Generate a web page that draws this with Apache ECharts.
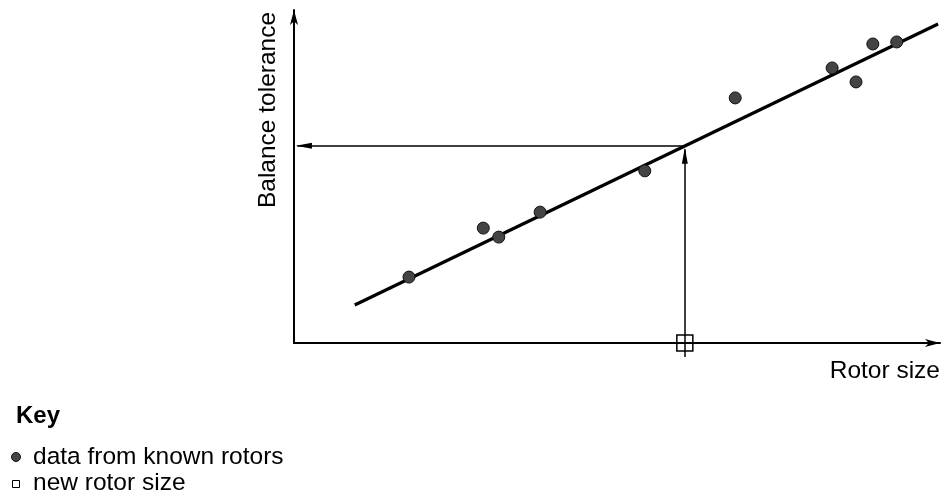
<!DOCTYPE html>
<html>
<head>
<meta charset="utf-8">
<script src="https://cdn.jsdelivr.net/npm/echarts@6/dist/echarts.min.js"></script>
<style>
  html, body { margin: 0; padding: 0; background: #fff; }
  #chart { width: 945px; height: 499px; }
</style>
</head>
<body>
<div id="chart"></div>
<script>
  // values, axes have no ticks so units are 0..100
  var knownRotors = [
    [17.8, 19.8], [29.3, 34.5], [31.7, 31.8], [38.1, 39.3], [54.3, 51.7],
    [68.3, 73.6], [83.3, 82.6], [87.0, 78.4], [89.6, 89.8], [93.3, 90.4]
  ];
  var fitLine = [[9.4, 11.4], [99.7, 95.8]];
  var newRotorSize = 60.5;
  var readTolerance = 59.2;
  var axisNames = ['Rotor size', 'Balance tolerance'];
  var keyTitle = 'Key';
  var keyLabels = ['data from known rotors', 'new rotor size'];

  var font = 'Liberation Sans, Arial, sans-serif';
  var arrowPath = 'path://M0,0 L3,16 L-3,16 Z';
  var chart = echarts.init(document.getElementById('chart'));

  var option = {
    animation: false,
    backgroundColor: '#fff',
    grid: { left: 294, right: 5, top: 10, bottom: 156 },
    xAxis: {
      type: 'value', min: 0, max: 100,
      axisLine: { lineStyle: { color: '#000', width: 2 }, symbol: ['none', 'arrow'], symbolSize: [6, 15] },
      axisTick: { show: false }, axisLabel: { show: false }, splitLine: { show: false }
    },
    yAxis: {
      type: 'value', min: 0, max: 100,
      axisLine: { show: true, lineStyle: { color: '#000', width: 2 }, symbol: ['none', 'arrow'], symbolSize: [6, 15] },
      axisTick: { show: false }, axisLabel: { show: false }, splitLine: { show: false }
    },
    title: {
      text: keyTitle, left: 11, top: 399,
      textStyle: { fontFamily: font, fontSize: 24, fontWeight: 'bold', color: '#000' }
    },
    graphic: [
      {
        type: 'text', x: 268, y: 110, rotation: Math.PI / 2,
        style: { text: axisNames[1], fontFamily: font, fontSize: 24.5, fill: '#000', align: 'center', verticalAlign: 'middle' }
      },
      {
        type: 'text', x: 940, y: 371,
        style: { text: axisNames[0], fontFamily: font, fontSize: 24.5, fill: '#000', align: 'right', verticalAlign: 'middle' }
      },
      {
        type: 'circle', shape: { cx: 16, cy: 457, r: 4.5 },
        style: { fill: '#444', stroke: '#111', lineWidth: 1 }
      },
      {
        type: 'text', x: 33, y: 457,
        style: { text: keyLabels[0], fontFamily: font, fontSize: 24.5, fill: '#000', align: 'left', verticalAlign: 'middle' }
      },
      {
        type: 'rect', shape: { x: 12.5, y: 480.5, width: 7, height: 7 },
        style: { fill: '#fff', stroke: '#000', lineWidth: 1 }
      },
      {
        type: 'text', x: 33, y: 483,
        style: { text: keyLabels[1], fontFamily: font, fontSize: 24.5, fill: '#000', align: 'left', verticalAlign: 'middle' }
      }
    ],
    series: [
      {
        type: 'lines', coordinateSystem: 'cartesian2d', clip: false, z: 3,
        symbol: 'none',
        lineStyle: { color: '#000', width: 1.5, opacity: 1 },
        data: [
          { coords: [[newRotorSize, -4.2], [newRotorSize, readTolerance - 1]] },
          { coords: [[newRotorSize, readTolerance], [0.5, readTolerance]] }
        ]
      },
      {
        // arrow heads of the reading lines
        type: 'scatter', clip: false, z: 3, silent: true,
        symbol: arrowPath, symbolSize: [6, 16],
        itemStyle: { color: '#000', opacity: 1 },
        data: [
          { value: [newRotorSize, readTolerance - 0.6], symbolRotate: 0, symbolOffset: [0, 8] },
          { value: [0.3, readTolerance], symbolRotate: 90, symbolOffset: [8, 0] }
        ]
      },
      {
        type: 'line', data: fitLine, showSymbol: false, z: 4,
        lineStyle: { color: '#000', width: 3.2 }
      },
      {
        name: keyLabels[0], type: 'scatter', data: knownRotors, symbolSize: 12, z: 5,
        itemStyle: { color: '#444', borderColor: '#111', borderWidth: 1, opacity: 1 }
      },
      {
        name: keyLabels[1], type: 'scatter', data: [[newRotorSize, 0]], symbol: 'rect', symbolSize: 16, clip: false, z: 6,
        itemStyle: { color: 'rgba(0,0,0,0)', borderColor: '#000', borderWidth: 1.5, opacity: 1 }
      }
    ]
  };
  chart.setOption(option);
</script>
</body>
</html>
